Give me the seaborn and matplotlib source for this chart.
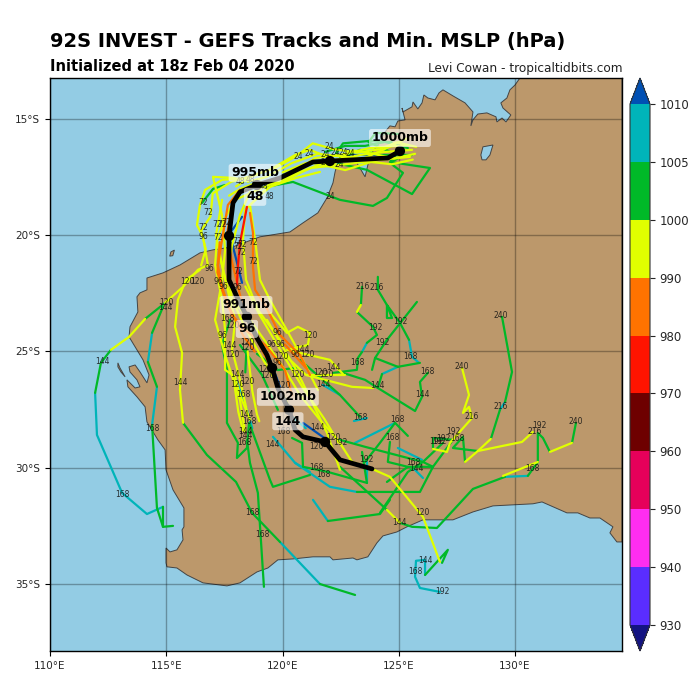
import numpy as np
import pandas as pd
import matplotlib
matplotlib.use('Agg')
import matplotlib.pyplot as plt
from matplotlib.colors import ListedColormap, BoundaryNorm
from matplotlib.cm import ScalarMappable
import seaborn as sns

sns.set_style('ticks')
plt.rcParams['font.family'] = 'DejaVu Sans'

# colorbar levels (hPa)
levels = [930, 940, 950, 960, 970, 980, 990, 1000, 1005, 1010]
level_colors = ['#5a2dff', '#ff2df0', '#e6005a', '#6e0000', '#ff1400', '#ff7300', '#e1ff00', '#00b928', '#00b4b9']
under_color = '#141482'
over_color = '#0050b4'
ocean_color = '#93cce4'
land_color = '#bc986b'

# coast, lon/lat
coast_lon = [130.21, 130.0, 129.78, 129.65, 129.39, 129.48, 129.82, 129.61, 129.44, 129.22, 129.18, 128.79, 128.4, 128.19, 128.1, 128.19, 127.85, 127.33, 126.9, 126.73, 126.56, 126.25, 126.08, 126.0, 125.82, 125.61, 125.57, 125.18, 125.14, 125.27, 124.96, 124.84, 124.62, 124.41, 124.1, 123.76, 123.67, 123.55, 123.33, 123.12, 122.69, 122.34, 122.26, 122.17, 121.91, 121.52, 120.88, 120.32, 119.03, 117.87, 117.01, 116.45, 115.59, 114.86, 114.17, 114.17, 113.87, 113.74, 113.78, 113.44, 113.4, 113.66, 114.0, 114.26, 114.17, 113.87, 113.66, 113.4, 113.44, 113.74, 113.87, 113.66, 113.31, 113.35, 113.74, 114.09, 114.17, 114.64, 114.95, 114.99, 115.29, 115.76, 115.76, 115.68, 115.72, 115.46, 115.16, 114.99, 114.99, 115.03, 115.46, 115.89, 116.58, 117.61, 118.17, 118.9, 119.37, 119.8, 120.45, 121.31, 122.04, 122.17, 123.03, 123.2, 123.67, 124.06, 124.32, 124.92, 125.35, 126.04, 127.33, 128.19, 129.05, 130.77, 131.16, 132.23, 132.7, 133.22, 133.65, 134.21, 134.08, 134.38, 134.6, 134.6]
coast_lat = [-13.24, -13.54, -13.75, -14.1, -14.31, -14.53, -14.83, -15.13, -14.96, -15.13, -14.91, -14.74, -14.79, -15.04, -15.3, -14.7, -14.31, -14.01, -13.75, -13.88, -14.18, -14.1, -13.97, -14.31, -14.57, -14.27, -14.48, -14.7, -14.53, -15.04, -15.09, -15.34, -15.3, -15.56, -16.12, -16.55, -16.98, -17.49, -17.11, -16.76, -16.68, -16.98, -17.28, -17.75, -18.4, -19.04, -19.47, -19.86, -20.07, -20.5, -20.63, -20.76, -21.28, -21.62, -21.84, -22.35, -22.48, -22.65, -23.3, -23.94, -24.37, -24.8, -25.36, -26.01, -26.35, -25.88, -25.58, -25.66, -25.88, -26.22, -26.52, -26.57, -26.22, -26.52, -26.95, -27.38, -28.03, -28.8, -29.23, -30.09, -30.95, -31.73, -32.54, -32.67, -33.1, -33.53, -33.62, -33.45, -34.09, -34.26, -34.31, -34.61, -34.95, -35.08, -34.95, -34.48, -34.31, -33.96, -33.92, -33.83, -33.83, -33.96, -33.88, -33.96, -33.83, -33.23, -32.93, -32.76, -32.54, -32.24, -32.24, -31.9, -31.64, -31.55, -31.47, -31.94, -31.94, -32.16, -32.16, -32.54, -32.8, -33.19, -33.19, -13.24]
island_lon = [112.92, 113.01, 113.23, 113.05, 112.92]
island_lat = [-25.49, -25.71, -26.09, -25.88, -25.66]
islet_lon = [115.2, 115.35, 115.28, 115.15]
islet_lat = [-20.72, -20.64, -20.88, -20.9]
lake_lon = [128.62, 129.05, 128.92, 128.75, 128.58, 128.53]
lake_lat = [-16.2, -16.12, -16.55, -16.76, -16.76, -16.55]

# ensemble members, cut where the colour changes
tracks_yellow = [
    [(125.57, -16.33), (124.41, -16.42), (123.33, -16.55), (122.26, -16.76), (121.18, -16.33), (120.54, -16.55), (119.46, -17.19), (118.39, -17.54), (117.4, -17.62), (116.67, -18.05), (116.45, -18.7), (116.32, -19.56), (116.58, -20.07), (116.79, -21.28), (116.36, -21.49), (115.72, -22.22), (114.95, -22.91)],
    [(114.09, -23.6), (113.4, -24.37)],
    [(113.4, -24.37), (112.62, -24.93)],
    [(116.45, -21.49), (115.85, -21.92), (115.5, -22.78), (115.38, -23.94), (115.68, -25.06), (115.59, -26.65), (115.72, -28.07)],
    [(125.48, -16.63), (124.19, -16.76), (122.47, -16.98), (121.18, -17.11), (120.1, -17.54), (118.94, -18.05), (117.96, -18.48), (117.53, -19.26), (117.18, -20.2), (117.1, -21.28), (117.4, -22.78), (117.53, -24.07), (117.53, -25.79), (117.96, -26.09), (118.17, -26.87), (118.6, -27.94)],
    [(118.6, -18.14), (118.17, -19.13), (117.83, -20.42), (117.65, -21.49), (117.83, -22.78), (118.6, -23.64), (119.37, -24.72), (120.1, -25.79), (120.75, -26.87), (121.61, -27.94), (122.38, -28.8), (122.99, -29.75), (123.85, -30.05), (124.62, -30.39), (126.04, -32.11), (126.77, -34.05)],
    [(117.4, -18.48), (117.14, -19.99), (117.53, -21.92), (117.96, -23.64), (117.83, -24.93), (118.17, -26.22), (118.51, -27.73)],
    [(119.33, -23.64), (120.66, -25.92), (121.91, -28.5), (122.47, -30.09)],
    [(119.46, -23.34), (120.19, -24.2), (120.66, -23.94), (121.18, -24.2), (121.09, -24.72), (120.19, -24.93), (122.04, -25.36), (122.6, -25.97)],
    [(120.1, -25.15), (121.01, -26.01), (122.99, -26.52), (123.89, -26.57)],
    [(121.01, -26.01), (122.69, -26.01)],
    [(127.72, -25.71), (128.02, -26.87), (127.76, -27.64), (128.02, -27.38), (128.15, -27.86), (127.2, -28.93), (127.07, -29.32), (126.47, -29.19)],
    [(128.96, -28.76), (128.4, -29.28), (127.85, -29.75)],
    [(128.4, -29.28), (130.3, -28.89), (130.77, -28.46)],
    [(132.45, -28.93), (131.5, -29.32)],
    [(130.98, -29.75), (129.48, -30.35)],
    [(124.49, -31.81), (125.05, -32.37)],
    [(125.39, -16.12), (123.76, -16.25), (122.47, -16.55), (121.4, -16.68), (120.32, -17.41), (119.25, -18.05), (118.39, -18.91), (118.3, -20.2), (118.43, -21.92), (118.94, -23.21), (119.89, -24.5)],
    [(121.61, -17.28), (120.58, -17.54), (119.46, -17.92), (118.6, -18.7), (118.82, -20.2), (119.03, -21.92), (119.46, -22.78), (120.54, -24.72), (121.52, -26.65)],
    [(117.96, -17.54), (117.01, -17.49), (117.4, -19.13), (117.53, -20.63), (117.4, -21.92), (117.1, -23.64), (117.53, -25.15), (118.17, -27.08), (118.39, -28.46)],
    [(123.2, -23.3), (123.37, -23.0)],
    [(125.75, -16.2), (124.9, -16.0), (124.2, -16.3), (123.2, -16.45), (122.2, -16.3), (121.3, -16.05), (120.6, -16.6), (119.7, -17.1), (118.8, -17.4), (118.0, -17.9)],
    [(125.6, -16.75), (124.7, -16.95), (123.8, -16.85), (122.7, -17.2), (121.6, -16.95), (120.8, -17.3), (119.8, -17.8), (119.0, -17.7), (118.2, -18.0), (117.7, -18.3)],
    [(125.3, -15.85), (124.6, -16.2), (123.5, -16.7), (122.4, -16.6), (121.5, -16.5), (120.4, -16.9), (119.3, -17.5), (118.5, -17.7)],
    [(125.7, -16.5), (124.8, -16.7), (123.9, -16.5), (123.0, -16.35), (122.2, -16.95), (121.0, -16.9), (120.0, -17.3)],
    [(118.9, -17.4), (117.8, -17.7), (117.0, -18.2), (116.9, -19.2), (116.5, -19.8), (116.7, -20.6), (116.5, -21.3)],
    [(117.3, -20.9), (117.65, -22.3), (118.3, -23.8), (118.9, -24.9), (119.6, -26.1), (120.2, -27.2)],
    [(118.4, -22.2), (119.0, -23.4), (120.0, -25.1), (120.9, -26.6), (121.8, -27.9), (122.4, -28.9)],
    [(117.9, -26.2), (118.1, -27.6), (118.3, -28.4)],
    [(118.5, -25.0), (118.7, -26.7), (118.9, -27.7), (119.0, -28.0)],
]
tracks_orange = [
    [(118.17, -18.05), (117.65, -18.7), (117.4, -20.2), (117.22, -21.28), (117.4, -22.35), (117.83, -23.43), (118.39, -24.07), (119.25, -24.72), (120.1, -25.79), (120.41, -26.87)],
    [(118.6, -19.04), (118.73, -19.9), (118.73, -21.36), (118.82, -22.35), (119.25, -23.0), (119.89, -24.29), (120.75, -25.15), (121.18, -26.01)],
    [(117.83, -18.7), (117.61, -19.99), (117.83, -21.15), (118.17, -22.57), (118.6, -23.86), (119.12, -24.93), (119.55, -25.79), (119.89, -26.65)],
    [(117.3, -20.3), (117.2, -21.6), (117.65, -23.0), (118.3, -24.3), (118.8, -25.0)],
    [(120.1, -24.7), (121.0, -25.7)],
]
tracks_red = [
    [(118.47, -18.78), (118.17, -20.33), (118.08, -21.36), (118.04, -22.14)],
]
tracks_blue = [
    [(118.26, -19.21), (117.74, -19.9)],
    [(117.83, -20.33), (118.26, -22.05)],
    [(119.46, -25.36), (119.89, -26.52)],
    [(120.88, -28.07), (121.91, -28.8)],
    [(122.69, -16.55), (124.41, -16.55)],
]
tracks_green = [
    [(114.95, -22.91), (114.09, -23.6)],
    [(113.4, -24.37), (113.4, -24.37)],
    [(112.62, -24.93), (112.19, -25.49), (111.94, -26.78)],
    [(114.86, -31.68), (114.86, -32.54), (115.29, -32.5)],
    [(114.86, -23.08), (114.39, -24.2)],
    [(114.21, -25.45), (114.6, -26.52)],
    [(114.39, -28.16), (114.6, -31.73), (114.86, -32.54)],
    [(115.72, -28.07), (116.75, -29.45), (118.0, -30.61), (118.69, -31.94), (119.89, -33.19)],
    [(121.61, -35.0), (123.12, -35.47)],
    [(125.22, -16.55), (124.62, -16.89), (125.18, -17.32), (124.49, -18.4), (123.89, -18.74), (122.47, -18.48), (120.45, -17.71), (119.03, -17.97)],
    [(125.05, -16.33), (124.62, -16.85), (126.34, -17.11), (125.57, -18.23), (123.63, -17.19), (122.69, -16.98), (122.04, -16.76)],
    [(125.39, -16.25), (124.41, -15.99), (123.55, -16.16), (122.69, -16.16), (121.83, -16.42)],
    [(125.57, -16.55), (124.19, -16.55), (123.33, -16.33), (122.47, -16.68)],
    [(125.0, -15.65), (124.0, -15.6), (123.7, -16.0), (124.6, -16.4)],
    [(124.7, -16.0), (123.7, -15.95), (122.6, -16.05), (122.3, -16.5)],
    [(116.54, -18.61), (117.01, -18.01), (117.53, -17.84)],
    [(117.74, -23.64), (117.4, -24.72), (117.61, -25.79), (117.61, -28.07), (118.08, -28.93), (118.04, -29.58), (118.47, -29.15), (118.56, -28.07)],
    [(118.47, -28.8), (118.6, -29.79), (118.94, -31.08), (119.2, -35.12)],
    [(118.6, -28.16), (119.46, -30.52), (119.59, -30.82), (121.18, -30.31)],
    [(120.41, -28.72), (120.84, -28.93), (120.88, -29.96), (121.95, -30.18), (123.63, -30.65)],
    [(118.17, -24.72), (119.12, -26.01), (119.8, -27.51)],
    [(118.45, -24.9), (118.4, -25.9)],
    [(118.9, -25.1), (119.8, -25.8), (120.6, -25.7)],
    [(123.2, -31.04), (125.91, -31.04), (126.47, -29.96), (127.33, -28.8)],
    [(121.95, -32.29), (124.19, -31.99), (124.62, -31.38)],
    [(122.47, -29.96), (124.49, -31.81)],
    [(124.19, -31.94), (125.39, -30.18), (126.04, -29.75), (126.9, -28.93)],
    [(122.47, -28.8), (123.55, -29.1), (126.04, -29.75), (126.47, -29.96)],
    [(124.84, -28.07), (125.39, -28.63)],
    [(124.84, -28.07), (124.19, -28.93), (123.55, -29.75)],
    [(124.62, -28.89), (124.53, -29.75), (125.39, -29.96), (126.47, -29.96)],
    [(124.49, -30.61), (125.39, -29.96)],
    [(123.42, -29.32), (123.63, -30.65)],
    [(125.05, -32.37), (125.57, -32.54), (126.64, -32.59), (128.19, -30.91), (129.57, -30.39)],
    [(130.55, -30.35), (130.98, -29.75)],
    [(130.98, -29.75), (130.98, -28.5), (131.2, -28.72), (131.5, -29.32)],
    [(132.45, -28.93), (132.62, -28.07)],
    [(128.96, -28.76), (129.35, -27.51)],
    [(129.57, -27.17), (129.87, -25.88), (129.44, -23.51)],
    [(128.4, -29.28), (127.33, -29.15), (127.76, -28.67), (127.85, -29.75)],
    [(126.47, -29.19), (126.47, -28.72), (127.33, -28.8)],
    [(122.17, -25.92), (123.2, -25.79), (123.24, -25.28), (123.42, -25.02)],
    [(123.63, -24.63), (124.06, -24.29), (123.89, -23.94), (123.2, -23.3)],
    [(123.37, -23.0), (123.42, -22.22)],
    [(122.47, -25.88), (123.55, -26.22), (124.1, -26.57), (125.7, -27.56), (126.0, -26.95), (125.91, -26.31), (126.25, -25.92)],
    [(125.91, -25.49), (124.96, -25.66)],
    [(124.28, -25.97), (124.1, -26.57)],
    [(123.85, -25.79), (123.98, -25.28), (124.96, -25.66)],
    [(125.78, -22.87), (124.49, -24.5), (123.98, -25.28)],
    [(124.1, -21.79), (124.1, -22.35), (124.49, -23.0), (124.71, -23.56), (124.49, -23.56), (124.49, -23.0), (125.05, -23.77), (125.44, -24.5)],
    [(120.75, -25.36), (122.47, -26.87), (123.33, -27.81)],
    [(126.13, -34.61), (127.11, -33.53), (126.86, -34.09)],
]
tracks_cyan = [
    [(111.94, -26.78), (112.02, -28.59), (113.1, -31.08), (114.17, -31.99), (114.86, -31.68)],
    [(114.39, -24.2), (114.21, -25.45)],
    [(114.6, -26.52), (114.39, -28.16)],
    [(119.89, -33.19), (121.61, -35.0)],
    [(119.59, -28.67), (120.54, -29.79), (121.18, -30.18)],
    [(120.54, -29.79), (122.04, -30.82), (123.2, -31.04)],
    [(121.31, -31.38), (121.95, -32.29)],
    [(123.12, -28.93), (124.84, -28.07)],
    [(123.63, -29.75), (123.63, -30.65)],
    [(124.96, -29.15), (126.0, -29.66)],
    [(125.57, -29.96), (126.04, -30.44)],
    [(129.57, -30.39), (130.55, -30.35)],
    [(129.35, -27.51), (129.57, -27.17)],
    [(123.42, -25.02), (123.63, -24.63)],
    [(124.96, -25.66), (124.28, -25.97)],
    [(125.44, -24.5), (125.57, -25.23), (125.87, -25.49)],
    [(123.07, -27.99), (123.63, -27.86)],
    [(121.74, -26.44), (122.47, -26.87)],
    [(126.13, -34.61), (126.13, -33.96), (125.74, -34.0), (125.7, -34.69), (125.91, -35.17), (126.77, -35.34)],
    [(118.0, -26.2), (118.5, -27.6), (118.7, -28.3)],
    [(120.4, -27.8), (121.0, -28.3)],
]

# ensemble mean
mean_lon = [125.05, 124.53, 122.04, 121.31, 119.89, 118.9, 118.17, 117.87, 117.7, 117.7, 118.04, 118.47, 118.9, 119.33, 119.55, 119.8, 120.28, 120.54, 120.88, 121.83, 122.47, 123.85]
mean_lat = [-16.38, -16.68, -16.81, -16.85, -17.54, -17.84, -18.14, -18.61, -20.03, -21.92, -22.65, -23.51, -24.42, -25.15, -25.71, -26.57, -27.51, -28.37, -28.67, -28.89, -29.66, -30.05]
dot_lon = [125.05, 122.04, 118.9, 117.7, 118.47, 119.55, 120.28, 121.83]
dot_lat = [-16.38, -16.81, -17.84, -20.03, -23.51, -25.71, -27.51, -28.89]

# big labels on the mean track
big_labels = [('1000mb', 125.05, -15.82), ('995mb', 118.82, -17.32), ('48', 118.82, -18.35),
              ('991mb', 118.43, -23.0), ('96', 118.47, -24.03), ('1002mb', 120.23, -26.95), ('144', 120.23, -28.0)]

# forecast hour labels on the members
small_labels = [
    ('24', 120.66, -16.63), ('24', 121.14, -16.5), ('24', 122.0, -16.2), ('24', 121.83, -16.55), ('24', 122.26, -16.46),
    ('24', 122.6, -16.46), ('24', 122.9, -16.5), ('24', 121.83, -16.89), ('24', 122.43, -16.98), ('24', 122.04, -18.35),
    ('48', 118.21, -17.71), ('48', 119.16, -17.92), ('48', 119.42, -18.35), ('48', 118.6, -17.62),
    ('72', 116.58, -18.61), ('72', 116.79, -19.04), ('72', 116.58, -19.69), ('72', 117.18, -19.52), ('72', 117.4, -19.56),
    ('72', 117.57, -19.47), ('72', 117.22, -20.12), ('72', 118.04, -20.29), ('72', 118.26, -20.38), ('72', 118.08, -20.5),
    ('72', 118.21, -20.76), ('72', 118.73, -20.33), ('72', 118.73, -21.11), ('72', 118.08, -21.54),
    ('96', 116.58, -20.07), ('96', 116.84, -21.45), ('96', 117.22, -21.97), ('96', 117.44, -22.22), ('96', 118.04, -22.27),
    ('96', 117.4, -24.33), ('96', 119.8, -24.2), ('96', 119.5, -24.68), ('96', 119.89, -24.68), ('96', 120.54, -25.15), ('96', 119.8, -25.49),
    ('120', 115.89, -21.97), ('120', 116.36, -21.97), ('120', 117.83, -23.9), ('120', 121.22, -24.33), ('120', 118.47, -24.63),
    ('120', 118.51, -24.85), ('120', 117.83, -25.15), ('120', 121.09, -25.15), ('120', 119.93, -25.23), ('120', 119.25, -25.79),
    ('120', 119.33, -26.05), ('120', 120.66, -25.97), ('120', 120.02, -26.48), ('120', 121.61, -25.92), ('120', 121.87, -26.0),
    ('120', 118.04, -26.44), ('120', 118.51, -26.31), ('120', 122.17, -28.72), ('120', 121.44, -29.1), ('120', 126.0, -31.94), ('120', 114.99, -22.91),
    ('144', 117.7, -24.76), ('144', 120.84, -24.93), ('144', 122.17, -25.71), ('144', 121.74, -26.4), ('144', 118.08, -26.0),
    ('144', 118.47, -27.69), ('144', 118.39, -28.46), ('144', 118.39, -28.63), ('144', 119.55, -29.02), ('144', 121.52, -28.29),
    ('144', 126.0, -26.87), ('144', 124.1, -26.48), ('144', 125.78, -30.05), ('144', 125.05, -32.37), ('144', 126.13, -34.0),
    ('144', 112.24, -25.45), ('144', 115.63, -26.35), ('144', 114.95, -23.13),
    ('168', 117.61, -23.6), ('168', 118.3, -26.87), ('168', 118.56, -28.03), ('168', 118.34, -28.93), ('168', 120.02, -28.42),
    ('168', 121.44, -30.01), ('168', 121.74, -30.31), ('168', 118.69, -31.94), ('168', 119.12, -32.85), ('168', 123.33, -27.86),
    ('168', 124.92, -27.94), ('168', 124.71, -28.72), ('168', 125.61, -29.79), ('168', 123.24, -25.49), ('168', 125.52, -25.23),
    ('168', 126.25, -25.88), ('168', 127.5, -28.76), ('168', 130.73, -30.05), ('168', 125.7, -34.44), ('168', 114.39, -28.33), ('168', 113.1, -31.13),
    ('192', 122.47, -28.93), ('192', 123.59, -29.66), ('192', 123.98, -23.99), ('192', 125.05, -23.73), ('192', 124.28, -24.63),
    ('192', 126.6, -28.89), ('192', 127.33, -28.46), ('192', 126.94, -28.76), ('192', 126.73, -28.89), ('192', 131.03, -28.2), ('192', 126.86, -35.34),
    ('216', 123.46, -22.22), ('216', 124.06, -22.27), ('216', 129.39, -27.38), ('216', 128.15, -27.81), ('216', 130.86, -28.42),
    ('240', 129.39, -23.47), ('240', 127.72, -25.66), ('240', 132.62, -28.03),
]

lon_ticks = [110, 115, 120, 125, 130]
lat_ticks = [-15, -20, -25, -30, -35]

# one row per vertex, one 'seg' per piece of track
band_tracks = [('cyan', tracks_cyan), ('blue', tracks_blue), ('green', tracks_green),
               ('yellow', tracks_yellow), ('orange', tracks_orange), ('red', tracks_red)]
band_colors = {'cyan': '#00b4b9', 'blue': '#0050b4', 'green': '#00b928',
               'yellow': '#e1ff00', 'orange': '#ff7300', 'red': '#ff1400'}
rows = []
seg = 0
for band, tracks in band_tracks:
    for track in tracks:
        for lon, lat in track:
            rows.append({'band': band, 'seg': seg, 'lon': lon, 'lat': lat})
        seg += 1
df = pd.DataFrame(rows)

fig = plt.figure(figsize=(7, 7), dpi=100)
ax = fig.add_axes([50 / 700, 1 - 651 / 700, 572 / 700, 573 / 700])
ax.set_facecolor(ocean_color)

ax.fill(coast_lon, coast_lat, facecolor=land_color, edgecolor='#444444', linewidth=0.7, zorder=1)
ax.fill(island_lon, island_lat, facecolor=land_color, edgecolor='#444444', linewidth=0.7, zorder=1)
ax.fill(islet_lon, islet_lat, facecolor=land_color, edgecolor='#444444', linewidth=0.7, zorder=1)
ax.fill(lake_lon, lake_lat, facecolor=ocean_color, edgecolor='#444444', linewidth=0.7, zorder=1)

ax.set_xticks(lon_ticks)
ax.set_yticks(lat_ticks)
ax.set_xticklabels([f'{v}°E' for v in lon_ticks], fontsize=7.5, color='#262626')
ax.set_yticklabels([f'{-v}°S' for v in lat_ticks], fontsize=7.5, color='#262626')
ax.tick_params(direction='out', length=3.5, width=0.8, color='black')
ax.grid(True, color='black', alpha=0.3, linewidth=1)
ax.set_axisbelow(False)

sns.lineplot(data=df, x='lon', y='lat', hue='band', hue_order=[b for b, _ in band_tracks], palette=band_colors,
             units='seg', estimator=None, sort=False, linewidth=1.6, legend=False, ax=ax, zorder=3)
sns.lineplot(x=mean_lon, y=mean_lat, sort=False, estimator=None, color='black', linewidth=3.4, ax=ax, zorder=5)
sns.scatterplot(x=dot_lon, y=dot_lat, color='black', s=55, edgecolor='none', ax=ax, zorder=6)

for text, lon, lat in small_labels:
    ax.text(lon, lat, text, fontsize=5.5, color='#111111', alpha=0.85, ha='center', va='center', zorder=4, clip_on=True)
for text, lon, lat in big_labels:
    ax.text(lon, lat, text, fontsize=9, fontweight='bold', color='black', ha='center', va='center', zorder=7,
            bbox=dict(boxstyle='round,pad=0.2', facecolor='white', edgecolor='none', alpha=0.6))

ax.set_xlim(110, 134.6)
ax.set_ylim(-37.88, -13.24)
ax.set_xlabel('')
ax.set_ylabel('')
for spine in ax.spines.values():
    spine.set_visible(True)
    spine.set_color('black')
    spine.set_linewidth(1)

fig.text(50 / 700, 1 - 47 / 700, '92S INVEST - GEFS Tracks and Min. MSLP (hPa)', fontsize=14, fontweight='bold', color='black', ha='left', va='baseline')
fig.text(50 / 700, 1 - 71 / 700, 'Initialized at 18z Feb 04 2020', fontsize=10.5, fontweight='bold', color='black', ha='left', va='baseline')
fig.text(622 / 700, 1 - 72 / 700, 'Levi Cowan - tropicaltidbits.com', fontsize=8.7, color='#222222', ha='right', va='baseline')

# colorbar with evenly spaced bands, triangles included in the axes height
cmap = ListedColormap(level_colors)
cmap.set_under(under_color)
cmap.set_over(over_color)
norm = BoundaryNorm(levels, cmap.N)
cax = fig.add_axes([630 / 700, 1 - 651 / 700, 20 / 700, 573 / 700])
cb = fig.colorbar(ScalarMappable(norm=norm, cmap=cmap), cax=cax, extend='both', spacing='uniform', ticks=levels, drawedges=False)
cb.ax.tick_params(labelsize=8.5, length=3.5, width=0.8, color='#262626', labelcolor='#262626')
cb.ax.minorticks_off()
cb.outline.set_edgecolor('#333333')
cb.outline.set_linewidth(0.8)

fig.savefig('out.png', dpi=100)
